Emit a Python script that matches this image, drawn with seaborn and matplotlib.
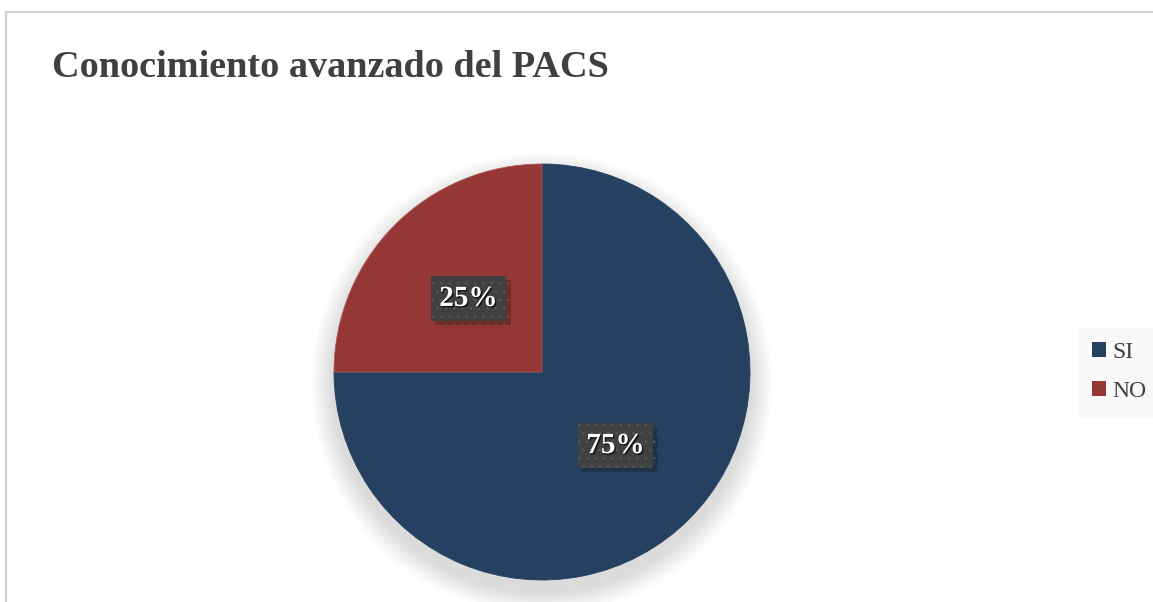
import matplotlib
matplotlib.use("Agg")
import matplotlib.pyplot as plt
import matplotlib.patheffects as pe
from matplotlib.patches import Rectangle, Circle
import seaborn as sns

# Survey answers
categories = ["SI", "NO"]
shares = [75, 25]
title_text = "Conocimiento avanzado del PACS"

sns.set_theme(style="white")
plt.rcParams["font.family"] = ["Liberation Serif", "DejaVu Serif"]
plt.rcParams["hatch.linewidth"] = 0.6

colors = sns.color_palette(["#264061", "#953735"])

W, H = 1153, 602
fig = plt.figure(figsize=(W / 100, H / 100), dpi=100)
fig.patch.set_facecolor("white")

# Outer chart frame
fig.add_artist(Rectangle((5.5 / W, -0.05), 1.2, 1 - 11.5 / H + 0.05,
                         transform=fig.transFigure, fill=False,
                         edgecolor="#d0d0d0", linewidth=1.5))

fig.text(52 / W, 1 - 77 / H, title_text, fontsize=27.5, fontweight="bold",
         color="#404040", ha="left", va="baseline")

# Pie axes (square, centred on the pie)
cx, cy, r = 542, 372, 208
ax = fig.add_axes([(cx - r) / W, (H - cy - r) / H, 2 * r / W, 2 * r / H])

# Soft drop shadow behind the pie
n = 18
for i in range(n):
    rad = 1.0 + 0.11 * (n - i) / n
    ax.add_patch(Circle((0, -0.055), rad, facecolor="#000000", alpha=0.009,
                        edgecolor="none", zorder=0, clip_on=False))

wedges, _, autotexts = ax.pie(
    shares, colors=colors, startangle=90, counterclock=False,
    autopct=lambda p: f"{p:.0f}%", pctdistance=0.5,
    wedgeprops=dict(linewidth=0.6, edgecolor="#b0585a"),
    textprops=dict(color="white", fontsize=21, fontweight="bold"),
    frame=False, radius=1.0)
ax.set_xlim(-1, 1)
ax.set_ylim(-1, 1)
ax.set_aspect("equal")
ax.axis("off")
for w in wedges:
    w.set_zorder(2)
wedges[0].set_edgecolor(colors[0])

for t in autotexts:
    t.set_zorder(5)
    t.set_bbox(dict(boxstyle="square,pad=0.3", facecolor="#404040",
                    edgecolor="#575757", linewidth=0, hatch=".."))
    t.get_bbox_patch().set_path_effects(
        [pe.SimplePatchShadow(offset=(3, -3), alpha=0.3), pe.Normal()])
    t.set_path_effects([pe.withSimplePatchShadow(offset=(1, -1),
                                                 shadow_rgbFace="black",
                                                 alpha=0.7)])

leg = fig.legend(wedges, categories, loc="center left",
                 bbox_to_anchor=(1078 / W, 1 - 372 / H),
                 borderaxespad=0, frameon=True, fancybox=False,
                 fontsize=17, handlelength=0.6, handleheight=0.6,
                 handletextpad=0.25, labelspacing=0.75, borderpad=0.6,
                 labelcolor="#404040")
leg.get_frame().set_facecolor("#f8f8f8")
leg.get_frame().set_edgecolor("#f8f8f8")
for h in leg.legend_handles:
    h.set_linewidth(0)

fig.savefig("out.png", dpi=100, facecolor="white")
